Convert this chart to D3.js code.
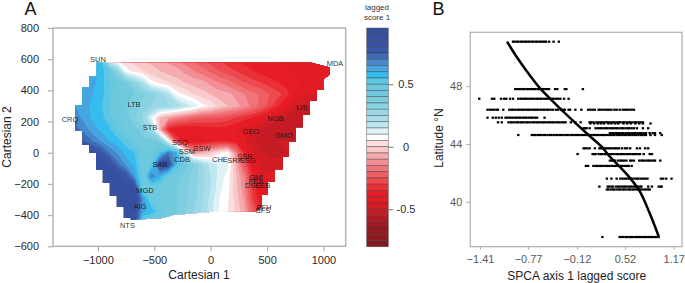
<!DOCTYPE html>
<html lang="en">
<head>
<meta charset="utf-8">
<title>Lagged score</title>
<script src="https://d3js.org/d3.v7.min.js"></script>
<style>
  body { margin: 0; background: #fff; }
  svg { display: block; font-family: "Liberation Sans", Arial, sans-serif; }
  .tick text { font-size: 11px; }
</style>
</head>
<body>
<script>
// panel A: score grid, rows from cartesian 2 = 600 down, columns from cartesian 1 = -1200, 75 apart
var gridStart = [-1200, 600];
var gridStep = 75;
var row00 = [.64,.64,.63,.58,.07,.03,0,-.03,-.05,-.07,-.08,-.12,-.15,-.18,-.21,-.25,-.28,-.3,-.33,-.35,-.37,-.38,-.39,-.4,-.41,-.41,-.42,-.42,-.42,-.42,-.42];
var row01 = [.64,.64,.63,.58,.5,.3,.07,.03,0,-.03,-.05,-.07,-.08,-.12,-.15,-.18,-.21,-.25,-.28,-.3,-.33,-.35,-.37,-.38,-.39,-.4,-.42,-.42,-.42,-.42,-.42];
var row02 = [.64,.63,.62,.58,.5,.45,.4,.3,.2,.07,.03,0,-.03,-.05,-.07,-.08,-.12,-.15,-.18,-.21,-.25,-.28,-.3,-.33,-.35,-.37,-.38,-.42,-.42,-.42,-.42];
var row03 = [.64,.63,.6,.57,.52,.45,.42,.4,.36,.33,.28,.2,.08,.04,0,-.03,-.05,-.07,-.08,-.12,-.15,-.18,-.21,-.25,-.28,-.33,-.4,-.45,-.45,-.45,-.45];
var row04 = [.65,.62,.59,.56,.5,.45,.4,.37,.33,.3,.28,.26,.24,.18,.14,.07,.04,-.02,-.05,-.08,-.12,-.17,-.22,-.28,-.35,-.42,-.5,-.5,-.5,-.5,-.5];
var row05 = [.68,.63,.59,.57,.52,.46,.42,.36,.28,.12,-.05,-.1,-.15,-.18,-.22,-.24,-.25,-.25,-.27,-.3,-.33,-.36,-.4,-.45,-.5,-.5,-.52,-.52,-.52,-.52,-.52];
var row06 = [.72,.68,.62,.59,.56,.5,.45,.42,.36,.25,-.07,-.36,-.4,-.4,-.4,-.38,-.37,-.37,-.38,-.4,-.42,-.47,-.5,-.52,-.52,-.52,-.52,-.52,-.52,-.52,-.52];
var row07 = [.8,.75,.7,.65,.6,.57,.52,.45,.42,.42,.38,.1,-.29,-.4,-.41,-.4,-.37,-.36,-.36,-.37,-.45,-.49,-.52,-.52,-.5,-.5,-.5,-.5,-.5,-.5,-.5];
var row08 = [.85,.85,.85,.8,.7,.64,.58,.55,.45,.45,.55,.7,.6,.15,-.11,-.07,-.03,.04,.08,-.14,-.36,-.45,-.5,-.52,-.52,-.5,-.5,-.5,-.5,-.5,-.5];
var row09 = [.88,.88,.88,.88,.85,.72,.64,.58,.45,.5,.85,.85,.55,.42,.35,.25,.18,.14,.12,-.07,-.25,-.4,-.47,-.48,-.47,-.45,-.45,-.45,-.45,-.45,-.45];
var row10 = [.9,.9,.9,.9,.9,.88,.8,.65,.45,.7,.6,.45,.42,.38,.33,.27,.2,.13,.08,-.04,-.16,-.36,-.45,-.43,-.43,-.43,-.43,-.43,-.43,-.43,-.43];
var row11 = [.9,.9,.9,.9,.9,.9,.9,.85,.45,.45,.45,.42,.4,.36,.32,.26,.2,.12,.07,-.04,-.14,-.32,-.42,-.42,-.42,-.42,-.42,-.42,-.42,-.42,-.42];
var row12 = [.9,.9,.9,.9,.9,.9,.9,.9,.65,.47,.45,.42,.4,.36,.32,.26,.18,.1,.06,-.02,-.11,-.3,-.4,-.4,-.4,-.4,-.4,-.4,-.4,-.4,-.4];
var row13 = [.9,.9,.9,.9,.9,.9,.9,.85,.62,.58,.5,.42,.4,.35,.3,.24,.17,.1,.05,-.01,-.09,-.22,-.36,-.4,-.4,-.4,-.4,-.4,-.4,-.4,-.4];
var row14 = [.9,.9,.9,.9,.9,.9,.9,.85,.45,.42,.42,.42,.4,.35,.3,.24,.17,.1,.05,-.01,-.09,-.22,-.36,-.4,-.4,-.4,-.4,-.4,-.4,-.4,-.4];
var scoreRows = [row00,row01,row02,row03,row04,row05,row06,row07,row08,row09,row10,row11,row12,row13,row14];

// sampled area outline in cartesian units
var outline1 = [-1011,895,1058,1058,998,998,940,940,880,880,818,818,756,756,694,694,638,638,570,570,508,508,452,452,393,20,-334,-423,-707,-707,-769,-769,-831,-831,-893,-893,-955,-955,-1017,-1017,-1079,-1079,-1141,-1141,-1203,-1203,-1138,-1138,-1076,-1076,-1011];
var outline2 = [577,577,546,501,472,402,402,333,333,242,242,163,163,71,71,-26,-26,-106,-106,-188,-188,-271,-271,-348,-377,-378,-399,-419,-431,-419,-419,-348,-348,-278,-278,-194,-194,-111,-111,-2,-2,49,49,139,139,306,306,421,421,491,491];

// station labels
var stations = ["SUN","LTB","STB","SSQ","SSM","SSW","CDB","SAB","CRQ","MGD","AIG","NTS","CHE","SRK","SSR","SSG","GEO","NGB","LIS","GMO","MDA","GMI","FEA","DSC","SEB","BFH","BFS"];
var stationC1 = [-999,-680,-538,-272,-210,-77,-254,-449,-1247,-582,-627,-738,82,215,304,331,357,574,809,650,1102,402,402,375,464,473,464];
var stationC2 = [601,309,165,69,11,30,-40,-72,216,-239,-345,-463,-40,-47,-21,-47,139,222,293,113,572,-156,-181,-207,-207,-348,-370];

// colour bands, top of the bar first
var bandTop = .95;
var bandStep = .05;
var bandColors = ["#34509f","#35509f","#3852a5","#3a58aa","#3f6cb3","#4688cc","#44a5e0","#35bdf0","#5cc6e4","#6bc8de","#70c9dd","#7dcedf","#88d2e2","#9ad8e6","#a8deea","#bfe7f0","#dff2f6","#ffffff","#fbdfe0","#f9c8ca","#f6abaf","#f38f94","#f07377","#ee5f63","#ec4a4f","#ea2f36","#e71c24","#e31c24","#d41c25","#c41b24","#b31a23","#a11a22","#951a21","#8a1a20","#801a1e"];
var barTicks = [.5, 0, -.5];
var barTickLabels = ["0.5", "0", "-0.5"];

// panel B: one list of scores per latitude
var dotLat = [51.08,47.8,47.13,46.37,45.82,45.5,45.42,45.09,44.75,44.62,43.7,43.3,42.85,42.48,41.6,41.05,40.85,37.56];
var dots00 = [-.97,-.95,-.92,-.9,-.87,-.85,-.82,-.8,-.77,-.75,-.72,-.7,-.67,-.65,-.62,-.6,-.57,-.55,-.53,-.49,-.43,-.36];
var dots01 = [-.94,-.92,-.89,-.87,-.84,-.82,-.79,-.77,-.74,-.72,-.69,-.67,-.64,-.62,-.58,-.56,-.53,-.51,-.49,-.41,-.38,-.28,-.26,-.04];
var dots02 = [-1.42,-1.25,-1.22,-1.13,-1.09,-1.06,-1.01,-.97,-.9,-.87,-.85,-.82,-.8,-.77,-.74,-.72,-.69,-.66,-.64,-.61,-.59,-.56,-.53,-.51,-.48,-.45,-.43,-.4,-.37,-.34,-.29,-.23];
var dots03 = [-1.31,-1.28,-1.25,-1.22,-1.19,-1.17,-1.1,-1.02,-.99,-.97,-.94,-.91,-.89,-.86,-.84,-.81,-.78,-.76,-.73,-.7,-.68,-.65,-.63,-.6,-.57,-.55,-.52,-.5,-.47,-.44,-.4,-.37,-.33,-.3,-.28,-.23,-.21,-.14,-.06,.03,.06,.09,.12,.17,.19,.22,.25,.28,.31,.34,.38,.41,.45,.49,.52,.55,.58,.61,.64];
var dots04 = [-1.31,-1.24,-1.2,-1.16,-1.12,-1.07,-1.05,-1.02,-1,-.97,-.94,-.92,-.89,-.87,-.84,-.81,-.79,-.76,-.73,-.71,-.68,-.65,-.55];
var dots05 = [-1.17,-1.12,-1.03,-1,-.98,-.95,-.92,-.9,-.87,-.85,-.82,-.79,-.77,-.74,-.71,-.69,-.66,-.64,-.61,-.58,-.56,-.53,-.5,-.48,-.45,-.43,-.4,-.37,-.35,-.32,-.29,-.27,-.2,-.14,-.07,.05,.07,.1,.14,.17,.2,.22,.25,.28,.3,.33,.36,.38,.41,.44,.46,.49,.51,.54,.57,.59,.62,.65,.67,.7,.73,.76];
var dots06 = [.06,.11,.16,.2,.24,.3,.34,.39,.43,.5,.55,.6,.66,.71,.76,.86];
var dots07 = [-.03,-.01,.01,.05,.13,.16,.19,.21,.24,.27,.29,.32,.35,.37,.4,.42,.45,.48,.5,.53,.56,.58,.61,.64,.68,.76,.83];
var dots08 = [.32,.35,.37,.4,.43,.45,.48,.5,.53,.56,.58,.61,.64,.66,.69,.72,.74,.77,.8,.85,.89,.92,.99];
var dots09 = [-.9,-.72,-.69,-.67,-.64,-.61,-.59,-.56,-.54,-.51,-.48,-.46,-.43,-.4,-.38,-.35,-.33,-.3,-.27,-.25,-.22,-.19,-.17,-.14,-.12,-.09,-.06,-.04,-.01,.02,.04,.07,.1,.12,.15,.17,.2,.23,.25,.28,.31,.33,.36,.38,.41,.44,.46,.49,.52,.54,.57,.59,.62,.65,.67,.7,.73,.75,.78,.8,.86,.92,1.01];
var dots10 = [-.03,-.01,.02,.05,.12,.18,.2,.23,.26,.28,.31,.33,.36,.39,.41,.44,.48,.52,.55,.59,.68,.72,.79,.83];
var dots11 = [-.11,.09,.11,.13,.17,.2,.22,.25,.27,.3,.33,.35,.38,.41,.43,.46,.48,.51,.54,.56,.59,.62,.64,.67,.7,.72,.77,.85,.88];
var dots12 = [.32,.35,.37,.39,.43,.46,.48,.51,.54,.59,.61,.64,.71,.74,.76,.79,.82,.84,.87,.9,.92,.99];
var dots13 = [0,.03,.1,.13,.15,.18,.2,.23,.26,.28,.31,.34,.36,.39,.41,.44,.47,.49,.52,.55,.57,.61];
var dots14 = [.28,.34,.41,.46,.49,.52,.54,.57,.6,.62,.65,.68,.7,.73,.76,.79,.82,1,1.03,1.07,1.14];
var dots15 = [.18,.29,.31,.34,.36,.4,.43,.45,.48,.51,.53,.56,.59,.61,.64,.66,.69,.72,.74,.83,.88,.97,1,1.01];
var dots16 = [.28,.3,.33,.36,.38,.41,.44,.46,.49,.51,.54,.57,.59,.62,.64,.67,.7,.72,.75,.78,.8,.83,.85];
var dots17 = [.22,.45,.48,.5,.53,.55,.58,.6,.63,.66,.68,.71,.73,.76,.79,.81,.84,.87,.89,.92,.94,.97];
var dotRows = [dots00,dots01,dots02,dots03,dots04,dots05,dots06,dots07,dots08,dots09,dots10,dots11,dots12,dots13,dots14,dots15,dots16,dots17];

var curveScore = [-1.05,-.9,-.74,-.61,-.48,-.3,.01,.21,.3,.45,.59,.72,.85,.97];
var curveLat = [51.08,49.86,48.7,47.85,47.16,46.24,44.74,43.81,43.24,42.43,41.63,40.7,39.2,37.6];

var scoreTicks = [-1.41,-.77,-.12,.52,1.17];
var scoreTickLabels = ["\u22121.41","\u22120.77","\u22120.12","0.52","1.17"];
var latTicks = [48,44,40];

var svg = d3.select("body").append("svg").attr("width", 685).attr("height", 283);
var boxGray = "#b0b0b0";

// ---- panel A ----
var x = d3.scaleLinear().domain([-1398, 1197]).range([53, 345.7]);
var y = d3.scaleLinear().domain([800, -600]).range([28, 246.3]);

svg.append("clipPath").attr("id", "hull").append("path")
  .attr("d", d3.line().x(function(d){ return x(d); }).y(function(d, i){ return y(outline2[i]); })(outline1) + "Z");

var nCols = row00.length;
var nRows = scoreRows.length;
var flat = d3.merge(scoreRows);
var levels = bandColors.map(function(c, i){ return bandTop - (i + 1) * bandStep; }).reverse();
levels[0] = -2;	// lowest band fills everything under it
var contours = d3.contours().size([nCols, nRows]).thresholds(levels)(flat);
var toPage = d3.geoTransform({
  point: function(px, py){
    this.stream.point(x(gridStart[0] + (px - .5) * gridStep), y(gridStart[1] - (py - .5) * gridStep));
  }
});
svg.append("g").attr("clip-path", "url(#hull)")
  .selectAll("path").data(contours).enter().append("path")
  .attr("d", d3.geoPath(toPage))
  .attr("fill", function(d, i){ return bandColors[bandColors.length - 1 - i]; });

svg.append("rect")
  .attr("x", 53).attr("y", 28).attr("width", 292.7).attr("height", 218.3)
  .attr("fill", "none").attr("stroke", boxGray).attr("stroke-width", 1.4);

var axisAx = svg.append("g").attr("transform", "translate(0,246.3)")
  .call(d3.axisBottom(x).tickValues([-1000,-500,0,500,1000]).tickSize(5).tickPadding(5).tickFormat(d3.format("d")));
var axisAy = svg.append("g").attr("transform", "translate(53,0)")
  .call(d3.axisLeft(y).tickValues([800,600,400,200,0,-200,-400,-600]).tickSize(5).tickPadding(9).tickFormat(d3.format("d")));
[axisAx, axisAy].forEach(function(a){
  a.select(".domain").remove();
  a.selectAll(".tick line").attr("stroke", boxGray).attr("stroke-width", 1.2);
  a.selectAll(".tick text").attr("fill", "#2b2b2b");
});

svg.append("g").selectAll("text").data(stations).enter().append("text")
  .attr("x", function(d, i){ return x(stationC1[i]); })
  .attr("y", function(d, i){ return y(stationC2[i]) + 2.6; })
  .attr("text-anchor", "middle")
  .attr("font-size", 7.5)
  .attr("fill", "#141414")
  .attr("fill-opacity", .9)
  .text(function(d){ return d; });

svg.append("text").attr("x", 199).attr("y", 279).attr("text-anchor", "middle").attr("font-size", 12).attr("fill", "#222").text("Cartesian 1");
svg.append("text").attr("transform", "translate(11,137) rotate(-90)").attr("text-anchor", "middle").attr("font-size", 12).attr("fill", "#222").text("Cartesian 2");
svg.append("text").attr("x", 24.5).attr("y", 15).attr("font-size", 18).attr("fill", "#111").text("A");

// ---- colour bar ----
var barY = d3.scaleLinear().domain([.95, -.8]).range([28, 246.7]);
svg.append("g").selectAll("rect").data(bandColors).enter().append("rect")
  .attr("x", 366.7).attr("width", 21.6)
  .attr("y", function(d, i){ return barY(bandTop - i * bandStep); })
  .attr("height", barY(0) - barY(bandStep))
  .attr("fill", function(d){ return d; })
  .attr("stroke", "#333").attr("stroke-opacity", .55).attr("stroke-width", .7);
var barAxis = svg.append("g").attr("transform", "translate(388.3,0)")
  .call(d3.axisRight(barY).tickValues(barTicks).tickSize(5).tickFormat(function(d, i){ return barTickLabels[i]; }));
barAxis.select(".domain").remove();
barAxis.selectAll(".tick line").attr("stroke", "#777");
barAxis.selectAll(".tick text").attr("x", 17.7).attr("text-anchor", "middle").attr("fill", "#2b2b2b");
svg.append("text").attr("x", 377).attr("y", 10).attr("text-anchor", "middle").attr("font-size", 8).attr("fill", "#333").text("lagged");
svg.append("text").attr("x", 377).attr("y", 20).attr("text-anchor", "middle").attr("font-size", 8).attr("fill", "#333").text("score 1");

// ---- panel B ----
var bx = d3.scaleLinear().domain([-1.539, 1.28]).range([470.3, 682]);
var by = d3.scaleLinear().domain([51.73, 36.89]).range([32.3, 246.7]);

svg.append("rect")
  .attr("x", 470.3).attr("y", 32.3).attr("width", 211.7).attr("height", 214.4)
  .attr("fill", "none").attr("stroke", boxGray).attr("stroke-width", 1.2);

dotRows.forEach(function(scores, r){
  svg.append("g").selectAll("rect").data(scores).enter().append("rect")
    .attr("x", function(d){ return bx(d) - 1.2; })
    .attr("y", by(dotLat[r]) - 1.1)
    .attr("width", 2.4).attr("height", 2.2)
    .attr("fill", "#000");
});

svg.append("path")
  .attr("d", d3.line().curve(d3.curveCatmullRom)
    .x(function(d){ return bx(d); })
    .y(function(d, i){ return by(curveLat[i]); })(curveScore))
  .attr("fill", "none").attr("stroke", "#000").attr("stroke-width", 2.5);

var axisBx = svg.append("g").attr("transform", "translate(0,246.7)")
  .call(d3.axisBottom(bx).tickValues(scoreTicks).tickSize(3).tickPadding(6).tickFormat(function(d, i){ return scoreTickLabels[i]; }));
var axisBy = svg.append("g").attr("transform", "translate(470.3,0)")
  .call(d3.axisLeft(by).tickValues(latTicks).tickSize(4).tickPadding(4));
[axisBx, axisBy].forEach(function(a){
  a.select(".domain").remove();
  a.selectAll(".tick line").attr("stroke", boxGray);
  a.selectAll(".tick text").attr("fill", "#5a5a5a");
});

svg.append("text").attr("x", 576.7).attr("y", 280).attr("text-anchor", "middle").attr("font-size", 12).attr("fill", "#222").text("SPCA axis 1 lagged score");
svg.append("text").attr("transform", "translate(443,138) rotate(-90)").attr("text-anchor", "middle").attr("font-size", 12).attr("fill", "#222").text("Latitude\u00a0\u00b0N");
svg.append("text").attr("x", 432.5).attr("y", 15).attr("font-size", 18).attr("fill", "#111").text("B");
</script>
</body>
</html>
